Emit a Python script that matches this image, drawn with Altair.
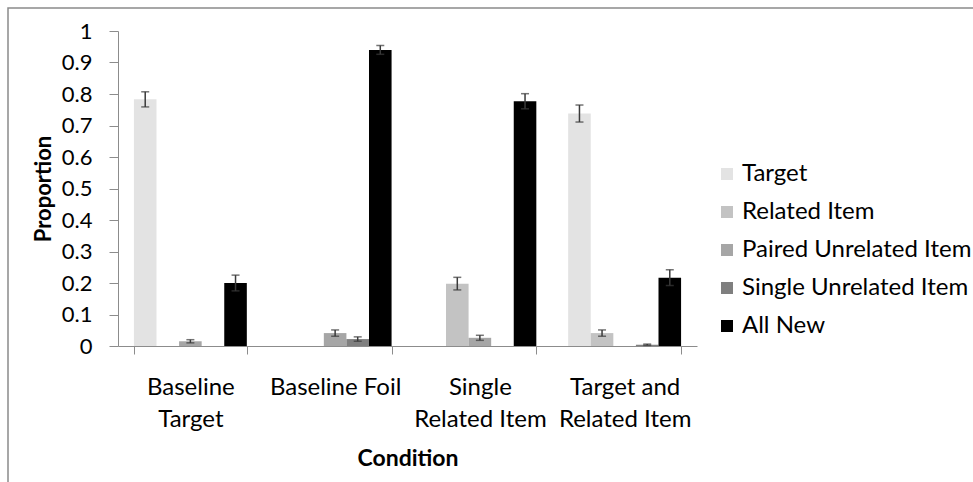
import altair as alt
import pandas as pd

# Conditions (x groups) and response types (bars within each group)
conditions = ["Baseline Target", "Baseline Foil", "Single Related Item", "Target and Related Item"]
condition_lines = [["Baseline", "Target"], ["Baseline Foil"], ["Single", "Related Item"], ["Target and", "Related Item"]]
responses = ["Target", "Related Item", "Paired Unrelated Item", "Single Unrelated Item", "All New"]
colors = ["#e3e3e3", "#c3c3c3", "#a6a6a6", "#7f7f7f", "#000000"]

# Mean proportion of each response, one list per response type (ordered as conditions)
target = [0.783, 0.0, 0.0, 0.738]
related_item = [0.0, 0.0, 0.198, 0.041]
paired_unrelated = [0.015, 0.041, 0.026, 0.0]
single_unrelated = [0.0, 0.022, 0.0, 0.004]
all_new = [0.200, 0.940, 0.777, 0.217]

# Standard errors
target_err = [0.024, 0.0, 0.0, 0.027]
related_item_err = [0.0, 0.0, 0.020, 0.010]
paired_unrelated_err = [0.005, 0.010, 0.008, 0.0]
single_unrelated_err = [0.0, 0.007, 0.0, 0.002]
all_new_err = [0.025, 0.014, 0.024, 0.025]

# Y axis tick values
y_ticks = [0, 0.1, 0.2, 0.3, 0.4, 0.5, 0.6, 0.7, 0.8, 0.9, 1]

means = [target, related_item, paired_unrelated, single_unrelated, all_new]
errs = [target_err, related_item_err, paired_unrelated_err, single_unrelated_err, all_new_err]

rows = []
for r, m_list, e_list in zip(responses, means, errs):
    for c, m, e in zip(conditions, m_list, e_list):
        rows.append({"Condition": c, "Response": r, "Proportion": m, "Err": e})
df = pd.DataFrame(rows)

FONT = "Lato"
AXIS_GRAY = "#8c8c8c"

label_map = ", ".join(
    "'" + c + "': [" + ", ".join("'" + s + "'" for s in lines) + "]"
    for c, lines in zip(conditions, condition_lines)
)
label_expr = "{" + label_map + "}[datum.label]"

x_axis = alt.Axis(
    title="Condition",
    titleFont=FONT, titleFontSize=23, titleFontWeight="bold", titleColor="#000",
    titlePadding=16,
    labelFont=FONT, labelFontSize=24, labelColor="#000", labelAngle=0,
    labelBaseline="top", labelLineHeight=32, labelPadding=21,
    labelExpr=label_expr, labelLimit=0,
    domainColor=AXIS_GRAY, tickColor=AXIS_GRAY, tickSize=8,
    tickBand="extent", grid=False,
)
y_axis = alt.Axis(
    title="Proportion",
    titleFont=FONT, titleFontSize=22, titleFontWeight="bold", titleColor="#000",
    titlePadding=6,
    labelFont=FONT, labelFontSize=22, labelColor="#000",
    labelPadding=17, labelOverlap=False,
    values=y_ticks, format="~g",
    domainColor=AXIS_GRAY, tickColor=AXIS_GRAY, tickSize=9, grid=False,
)

x_scale = alt.Scale(paddingInner=0.22, paddingOuter=0.11)
y_scale = alt.Scale(domain=[0, 1], nice=False)

x_enc = alt.X("Condition:N", sort=conditions, scale=x_scale, axis=x_axis)
xoff_enc = alt.XOffset("Response:N", sort=responses, scale=alt.Scale(paddingInner=0, paddingOuter=0))

bars = alt.Chart(df).mark_bar().encode(
    x=x_enc,
    xOffset=xoff_enc,
    y=alt.Y("Proportion:Q", scale=y_scale, axis=y_axis),
    color=alt.Color(
        "Response:N",
        sort=responses,
        scale=alt.Scale(domain=responses, range=colors),
        legend=alt.Legend(
            title=None, orient="none", legendX=597, legendY=131,
            symbolType="square", symbolSize=144, symbolStrokeWidth=0,
            labelFont=FONT, labelFontSize=24, labelColor="#000", labelLimit=0,
            rowPadding=14, labelOffset=3,
        ),
    ),
)

err_base = alt.Chart(df).transform_filter("datum.Err > 0").transform_calculate(
    lo="datum.Proportion - datum.Err", hi="datum.Proportion + datum.Err"
)

err_rule = err_base.mark_rule(color="#3a3a3a", strokeWidth=1.5).encode(
    x=x_enc,
    xOffset=xoff_enc,
    y=alt.Y("lo:Q", scale=y_scale, axis=y_axis),
    y2="hi:Q",
)
err_cap_hi = err_base.mark_tick(color="#3a3a3a", size=8, thickness=1.5).encode(
    x=x_enc,
    xOffset=xoff_enc,
    y=alt.Y("hi:Q", scale=y_scale, axis=y_axis),
)
err_cap_lo = err_base.mark_tick(color="#3a3a3a", size=8, thickness=1.5).encode(
    x=x_enc,
    xOffset=xoff_enc,
    y=alt.Y("lo:Q", scale=y_scale, axis=y_axis),
)

# Outer chart-area frame
frame = alt.Chart(alt.Data(values=[{}])).mark_rect(
    fill="transparent", stroke="#8a8a8a", strokeWidth=1.5
).encode(
    x=alt.value(-110), x2=alt.value(880), y=alt.value(-23), y2=alt.value(470)
)

chart = alt.layer(frame, bars, err_rule, err_cap_hi, err_cap_lo).properties(
    width=579, height=315,
    autosize=alt.AutoSizeParams(type="none"),
    padding={"left": 118, "top": 31, "right": 276, "bottom": 136},
    background="white",
).configure_view(stroke=None)

chart.save("out.html", embed_options={"renderer": "svg", "actions": False})
